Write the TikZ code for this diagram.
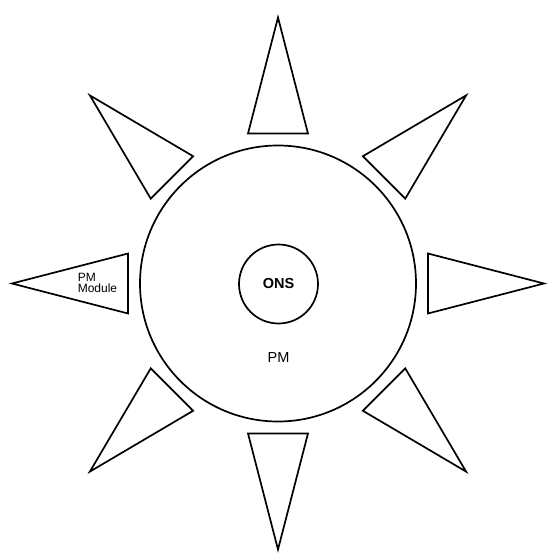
\documentclass[tikz,border=0pt]{standalone}
\usepackage{fontspec}
\setmainfont{Liberation Sans}
\usetikzlibrary{positioning}
\tikzset{ray/.style={draw,line width=1.7pt,line join=miter},
         ring/.style={draw,circle,line width=1.7pt,inner sep=0pt}}

\begin{document}
\begin{tikzpicture}[x=1pt,y=1pt,font=\fontsize{14.5}{14}\selectfont]
                   \useasboundingbox (-278,-276.5) rectangle (279,283.5);
                   \node[ring,minimum size=276] (pm) at (0,0) {};
                   \node[ring,minimum size=79,font=\fontsize{14.5}{14}\selectfont\bfseries] (ons) at (0.5,-0.5) {ONS};
                   \node[inner sep=0pt] (pm_label) [below=27.5 of ons] {PM};
                   \draw[ray] (-11.3:153) -- (0:266) -- (11.3:153) -- cycle;
                   \draw[ray] (33.7:153) -- (45:266) -- (56.3:153) -- cycle;
                   \draw[ray] (78.7:153) -- (90:266) -- (101.3:153) -- cycle;
                   \draw[ray] (123.7:153) -- (135:266) -- (146.3:153) -- cycle;
                   \draw[ray] (168.7:153) -- (180:266) -- (191.3:153) -- cycle;
                   \draw[ray] (213.7:153) -- (225:266) -- (236.3:153) -- cycle;
                   \draw[ray] (258.7:153) -- (270:266) -- (281.3:153) -- cycle;
                   \draw[ray] (303.7:153) -- (315:266) -- (326.3:153) -- cycle;
                   \node[align=left,inner sep=0pt,font=\fontsize{12}{11}\selectfont] (pm_module) at (-180.5,0.5) {PM\\Module};
                \end{tikzpicture}
\end{document}
